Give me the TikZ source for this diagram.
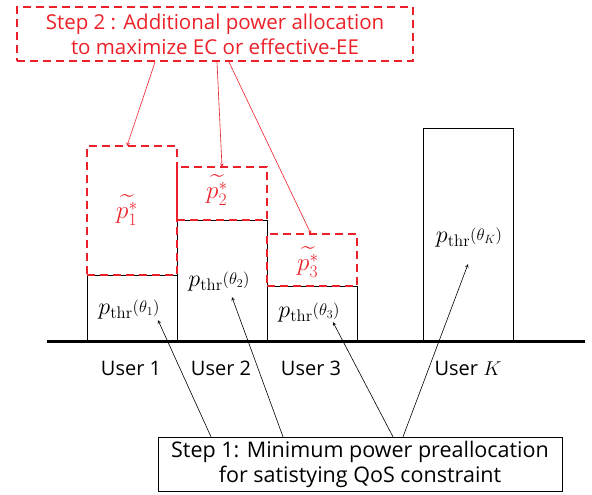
\documentclass[tikz,border=0pt]{standalone}
\usepackage{fix-cm}
\usepackage{amsmath}
\usepackage[no-math]{fontspec}
\setmainfont{Open Sans}
\usetikzlibrary{positioning}
\definecolor{stepred}{RGB}{236,32,40}
\newcommand{\pthr}[1]{p_{\mathrm{thr}}\raisebox{2pt}{$\scriptstyle(\theta_{#1})$}}

\begin{document}
\begin{tikzpicture}[
   x=1pt,y=-1pt,
   font=\fontsize{20}{25}\selectfont,
   base/.style={draw,thin,outer sep=0pt,inner sep=0pt,minimum width=90pt},
   extra/.style={draw=stepred,line width=2.2pt,dash pattern=on 8pt off 5pt,outer sep=0pt,inner sep=0pt,minimum width=90pt},
   thr/.style={font=\fontsize{24}{26}\selectfont},
   opt/.style={text=stepred,font=\fontsize{25}{26}\selectfont},
   to/.style={->,>=stealth,semithick},
   tored/.style={->,>=stealth,stepred,semithick},
   every node/.style={align=center}]
\useasboundingbox (0,0) rectangle (592,495);
% ground
\coordinate (gw) at (47,341);
\coordinate (ge) at (585,341);
\draw[line width=3pt] (gw) -- (ge);
% minimum power boxes
\node[base,minimum height=65pt,anchor=south west] (b1) at (87,340) {};
\node[base,minimum height=120pt,right=0pt of b1.south east,anchor=south west] (b2) {};
\node[base,minimum height=54pt,right=0pt of b2.south east,anchor=south west] (b3) {};
\node[base,minimum height=212pt,anchor=south west] (bK) at (423,340) {};
% additional power boxes
\node[extra,minimum height=129pt,above=0pt of b1] (r1) {};
\node[extra,minimum height=53pt,above=0pt of b2] (r2) {};
\node[extra,minimum height=52pt,above=0pt of b3] (r3) {};
% labels
\node[thr] (t1) at (129,310) {$\pthr{1}$};
\node[thr] (t2) at (219,282) {$\pthr{2}$};
\node[thr] (t3) at (309,313) {$\pthr{3}$};
\node[thr] (tK) at (469,238) {$\pthr{K}$};
\node[opt] (o1) at (127,210) {$\widetilde{p_1^*}$};
\node[opt] (o2) at (217,190) {$\widetilde{p_2^*}$};
\node[opt] (o3) at (308,262) {$\widetilde{p_3^*}$};
\node (u1) at (131,368) {User 1};
\node (u2) at (221,368) {User 2};
\node (u3) at (311,368) {User 3};
\node (uK) at (468,368) {User $K$};
% steps
\node[draw=stepred,line width=2.2pt,dash pattern=on 8pt off 5pt,text=stepred,
      font=\fontsize{20.5}{25}\selectfont,
      minimum width=396pt,minimum height=54pt,inner sep=0pt] (step2) at (215,34)
      {Step 2 : Additional power allocation\\to maximize EC or effective-EE};
\node[draw,thin,font=\fontsize{21.5}{25}\selectfont,
      minimum width=404pt,minimum height=54pt,inner sep=0pt] (step1) at (360,464)
      {Step 1: Minimum power preallocation\\for satistying QoS constraint};
\draw[to] ([xshift=-149pt]step1.north) -- ([xshift=29pt,yshift=3pt]t1.south);
\draw[to] ([xshift=-77pt]step1.north) -- ([xshift=13pt,yshift=-2pt]t2.south);
\draw[to] ([xshift=33pt]step1.north) -- ([xshift=24pt,yshift=4pt]t3.south);
\draw[to] ([xshift=43pt]step1.north) -- ([xshift=-1pt,yshift=-13pt]tK.south);
\draw[tored] ([xshift=-60pt]step2.south) -- ([xshift=40pt]r1.north west);
\draw[tored] ([xshift=2pt]step2.south) -- ([xshift=45pt]r2.north west);
\draw[tored] ([xshift=14pt]step2.south) -- ([xshift=44pt]r3.north west);
\end{tikzpicture}
\end{document}
